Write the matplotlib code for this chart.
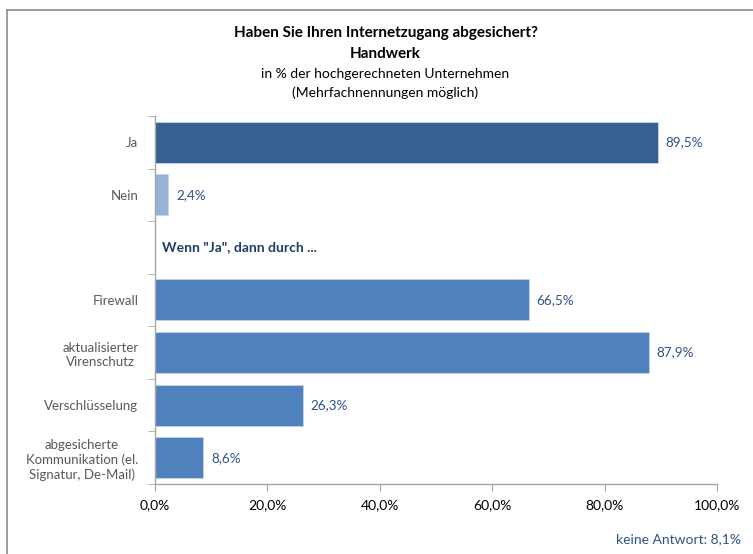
import matplotlib.pyplot as plt
from matplotlib.lines import Line2D

plt.rcParams["font.family"] = ["Lato", "DejaVu Sans"]

# Data
categories = [
    "Ja",
    "Nein",
    "",
    "Firewall",
    "aktualisierter\nVirenschutz",
    "Verschlüsselung",
    "abgesicherte\nKommunikation (el.\nSignatur, De-Mail)",
]
values = [89.5, 2.4, None, 66.5, 87.9, 26.3, 8.6]
colors = ["#376092", "#95B3D7", None, "#4F81BD", "#4F81BD", "#4F81BD", "#4F81BD"]
xticks = [0, 20, 40, 60, 80, 100]
xtick_labels = ["0,0%", "20,0%", "40,0%", "60,0%", "80,0%", "100,0%"]

label_color = "#2F5287"
tick_color = "#595959"
axis_color = "#A6A6A6"

fig = plt.figure(figsize=(7.53, 5.54), dpi=100)
ax = fig.add_axes([0.2058, 0.1264, 0.7464, 0.6642])

for i, (v, c) in enumerate(zip(values, colors)):
    if v is None:
        continue
    ax.barh(i, v, height=0.78, color=c, edgecolor="#C6D5EA", linewidth=0.6)
    ax.text(v + 1.4, i, f"{v:.1f}%".replace(".", ","), va="center", ha="left",
            fontsize=9.7, color=label_color)

ax.set_ylim(len(categories) - 0.5, -0.5)
ax.set_xlim(0, 100)
ax.set_yticks(range(len(categories)))
ax.set_yticklabels(categories, fontsize=9.5, color=tick_color, linespacing=1.25,
                   multialignment="center")
ax.set_yticks([i - 0.5 for i in range(len(categories) + 1)], minor=True)
ax.tick_params(axis="y", which="major", length=0, pad=12)
ax.tick_params(axis="y", which="minor", length=5, color=axis_color, direction="out")
ax.set_xticks(xticks)
ax.set_xticklabels(xtick_labels, fontsize=10, color="#000000")
ax.tick_params(axis="x", length=5, color=axis_color, direction="out", pad=6)

for side in ["top", "right"]:
    ax.spines[side].set_visible(False)
for side in ["left", "bottom"]:
    ax.spines[side].set_color(axis_color)
    ax.spines[side].set_linewidth(1)

ax.text(1.3, 2, 'Wenn "Ja", dann durch ...', fontsize=10, fontweight="bold",
        color="#1F3D66", va="center", ha="left")

# Titles
fig.text(0.512, 1 - 33 / 554, "Haben Sie Ihren Internetzugang abgesichert?",
         ha="center", va="center", fontsize=11, fontweight="bold")
fig.text(0.512, 1 - 54 / 554, "Handwerk", ha="center", va="center",
         fontsize=11, fontweight="bold")
fig.text(0.512, 1 - 74 / 554, "in % der hochgerechneten Unternehmen",
         ha="center", va="center", fontsize=10)
fig.text(0.512, 1 - 93 / 554, "(Mehrfachnennungen möglich)",
         ha="center", va="center", fontsize=10)

fig.text(741 / 753, 1 - 539 / 554, "keine Antwort: 8,1%", ha="right", va="center",
         fontsize=10, color=label_color)

# Outer frame (top and left edges)
fig.add_artist(Line2D([7 / 753, 7 / 753], [0, 1 - 10 / 554], color="#8C8C8C", lw=1.2))
fig.add_artist(Line2D([7 / 753, 1], [1 - 10 / 554, 1 - 10 / 554], color="#8C8C8C", lw=1.2))

fig.savefig("out.png", dpi=100)
